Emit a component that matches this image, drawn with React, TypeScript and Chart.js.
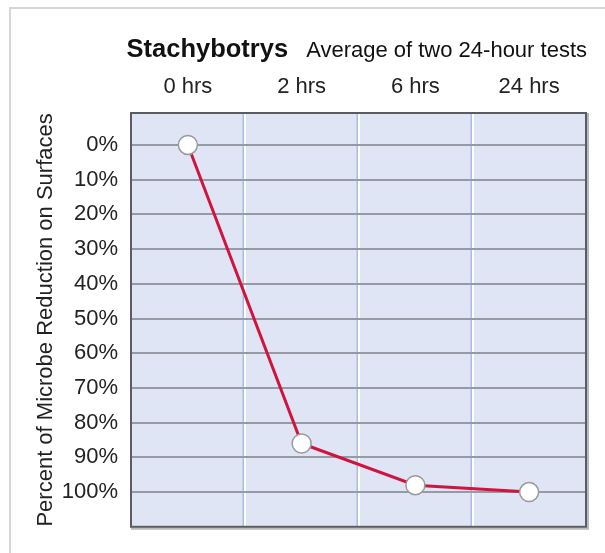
import { useEffect, useRef } from 'react';
import { Chart, registerables } from 'chart.js';

Chart.register(...registerables);

// ---- data ----
const categories = ['0 hrs', '2 hrs', '6 hrs', '24 hrs'];
const reduction = [0, 86, 98, 100];
const yTickValues = [0, 10, 20, 30, 40, 50, 60, 70, 80, 90, 100];
const yTickLabels = ['0%', '10%', '20%', '30%', '40%', '50%', '60%', '70%', '80%', '90%', '100%'];
const titleMain = 'Stachybotrys';
const titleSub = 'Average of two 24-hour tests';
const yAxisTitle = 'Percent of Microbe Reduction on Surfaces';

const FONT = '"Liberation Sans", Arial, Helvetica, sans-serif';

const decorPlugin = {
  id: 'decor',
  beforeDraw(chart: any) {
    const { ctx, chartArea } = chart;
    const { left, top, right, bottom } = chartArea;
    ctx.save();
    ctx.fillStyle = '#dfe5f4';
    ctx.fillRect(left, top, right - left, bottom - top);
    // category separators (blue line + white highlight)
    const xs = chart.scales.x;
    for (let i = 1; i < categories.length; i++) {
      const b = (xs.getPixelForValue(i - 1) + xs.getPixelForValue(i)) / 2;
      const bx = Math.floor(b);
      ctx.strokeStyle = '#a9bde2';
      ctx.lineWidth = 1.5;
      ctx.beginPath();
      ctx.moveTo(bx - 0.75, top);
      ctx.lineTo(bx - 0.75, bottom);
      ctx.stroke();
      ctx.strokeStyle = '#ffffff';
      ctx.lineWidth = 2;
      ctx.beginPath();
      ctx.moveTo(bx + 1, top);
      ctx.lineTo(bx + 1, bottom);
      ctx.stroke();
    }
    ctx.restore();
  },
  beforeDatasetsDraw(chart: any) {
    const { ctx, chartArea } = chart;
    const { left, top, right, bottom } = chartArea;
    ctx.save();
    // soft shadow right / bottom
    ctx.strokeStyle = '#b8b9be';
    ctx.lineWidth = 2;
    ctx.beginPath();
    ctx.moveTo(right + 2, top);
    ctx.lineTo(right + 2, bottom + 2);
    ctx.lineTo(left, bottom + 2);
    ctx.stroke();
    // dark frame
    ctx.strokeStyle = '#5b5c62';
    ctx.lineWidth = 2;
    ctx.strokeRect(left, top, right - left, bottom - top);
    ctx.restore();
  },
  afterDraw(chart: any) {
    const { ctx, chartArea } = chart;
    ctx.save();
    ctx.textBaseline = 'alphabetic';
    ctx.textAlign = 'left';
    ctx.fillStyle = '#111111';
    const y = chartArea.top - 56;
    const xEnd = chartArea.right + 1;
    ctx.font = `22px ${FONT}`;
    const w2 = ctx.measureText(titleSub).width;
    ctx.fillText(titleSub, xEnd - w2, y);
    ctx.font = `bold 25.5px ${FONT}`;
    const w1 = ctx.measureText(titleMain).width;
    ctx.fillText(titleMain, xEnd - w2 - 18 - w1, y);
    ctx.restore();
  },
};

export default function App() {
  const canvasRef = useRef<HTMLCanvasElement | null>(null);

  useEffect(() => {
    if (!canvasRef.current) return;
    const chart = new Chart(canvasRef.current, {
      type: 'line',
      data: {
        labels: categories,
        datasets: [
          {
            data: reduction,
            borderColor: '#d1143f',
            borderWidth: 3,
            pointRadius: 9.5,
            pointHoverRadius: 9.5,
            pointBackgroundColor: '#ffffff',
            pointBorderColor: '#9a9a9a',
            pointBorderWidth: 1.5,
            tension: 0,
            fill: false,
          },
        ],
      },
      options: {
        responsive: false,
        animation: false,
        events: [],
        layout: { padding: { top: 72, left: 0, right: 19, bottom: 22 } },
        plugins: {
          legend: { display: false },
          tooltip: { enabled: false },
          title: { display: false },
        },
        scales: {
          x: {
            type: 'category',
            position: 'top',
            offset: true,
            grid: { display: false, drawTicks: false },
            border: { display: false },
            ticks: {
              padding: 13,
              color: '#222222',
              font: { family: FONT, size: 22 },
              maxRotation: 0,
              autoSkip: false,
            },
            afterFit: (s: any) => {
              s.height = 41;
            },
          },
          y: {
            type: 'linear',
            reverse: true,
            min: -9.2,
            max: 110,
            border: { display: false },
            afterBuildTicks: (s: any) => {
              s.ticks = yTickValues.map((v) => ({ value: v }));
            },
            grid: { color: '#969aa4', lineWidth: 2, drawTicks: false },
            ticks: {
              padding: 13,
              color: '#222222',
              font: { family: FONT, size: 22 },
              callback: (_v: any, i: number) => yTickLabels[i] ?? '',
            },
            title: {
              display: true,
              text: yAxisTitle,
              color: '#222222',
              font: { family: FONT, size: 22 },
              padding: { top: 33, bottom: 0 },
            },
            afterFit: (s: any) => {
              s.width = 131;
            },
          },
        },
      },
      plugins: [decorPlugin],
    });
    return () => chart.destroy();
  }, []);

  return (
    <div
      style={{
        position: 'fixed',
        left: 0,
        top: 0,
        width: 605,
        height: 553,
        overflow: 'hidden',
        background: '#ffffff',
      }}
    >
      <div
        style={{
          position: 'absolute',
          left: 9,
          top: 7,
          width: 700,
          height: 700,
          borderTop: '2px solid #d6d6d6',
          borderLeft: '2px solid #d6d6d6',
        }}
      />
      <canvas
        ref={canvasRef}
        width={605}
        height={553}
        style={{ position: 'absolute', left: 0, top: 0, width: 605, height: 553 }}
      />
    </div>
  );
}
